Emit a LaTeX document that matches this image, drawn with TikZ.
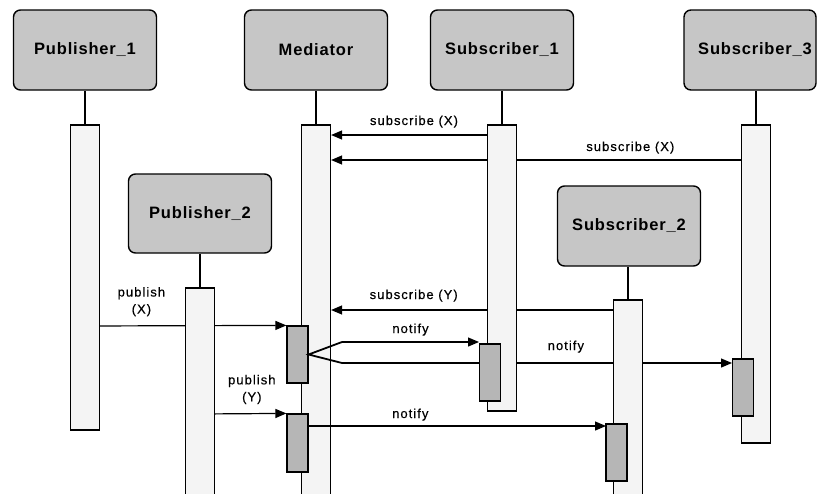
\documentclass[tikz,border=0pt]{standalone}
\usepackage{fontspec}
\setmainfont{Liberation Sans}
\newfontfamily\boxfont[LetterSpace=5]{Liberation Sans}
\newfontfamily\lblfont[LetterSpace=8,FakeBold=0.4]{Liberation Sans}
\usetikzlibrary{arrows.meta}

\definecolor{boxgray}{HTML}{C6C6C6}
\definecolor{barfill}{HTML}{F4F4F4}
\definecolor{actgray}{HTML}{B6B6B6}

\tikzset{
  actor/.style={draw, line width=1.4pt, rounded corners=7pt, fill=boxgray,
    minimum width=143pt, minimum height=80pt, inner sep=0pt,
    font=\boxfont\bfseries\fontsize{16.5}{20}\selectfont},
  lifebar/.style={draw, line width=1.2pt, fill=barfill, minimum width=29pt, inner sep=0pt},
  activation/.style={draw, line width=1.2pt, fill=actgray, minimum width=21pt, inner sep=0pt},
  lifeline/.style={line width=1.3pt},
  msg/.style={line width=1.2pt, -{Triangle[length=11pt,width=9pt]}},
  fork/.style={line width=1.8pt},
  lbl/.style={font=\lblfont\fontsize{13}{17}\selectfont, inner sep=0pt, align=center}
}

\begin{document}
\begin{tikzpicture}[x=1pt, y=-1pt]
\clip (0,0) rectangle (818,493);

% participants
\node[actor] (pub1) at (85,50) {Publisher\_1};
\node[actor] (med) at (316,50) {Mediator};
\node[actor] (sub1) at (502,50) {Subscriber\_1};
\node[actor, minimum width=132pt] (sub3) at (750,50) {\hspace*{10pt}Subscriber\_3};
\node[actor, minimum height=79pt] (pub2) at (200,213.5) {Publisher\_2};
\node[actor] (sub2) at (629,226) {Subscriber\_2};

% the mediator's bar lies beneath the messages
\node[lifebar, minimum height=372pt] (medbar) at (316,311) {};
\draw[lifeline] (medbar.north) -- (medbar.north |- med.south);

% activations on the mediator
\node[activation, minimum height=57pt] (m1) at (297.5,354.5) {};
\node[activation, minimum height=58pt] (m2) at (297.5,443) {};

% subscriptions
\draw[msg] (502,135) -- (medbar.east |- 0,135)
  node[lbl, pos=0.515, anchor=base, yshift=10pt] {subscribe (X)};
\draw[msg] (741,160) -- (medbar.east |- 0,160)
  node[lbl, pos=0.27, anchor=base, yshift=9pt] {subscribe (X)};
\draw[msg] (613,310) -- (medbar.east |- 0,310)
  node[lbl, pos=0.707, anchor=base, yshift=11pt] {subscribe (Y)};

% publications
\draw[msg] (85,326) -- (m1.north west)
  node[lbl, pos=0.28, anchor=south, yshift=9pt] {publish\\(X)};
\draw[msg] (200,414) -- (m2.north west)
  node[lbl, pos=0.60, anchor=south, yshift=9pt] {publish\\(Y)};

% notifications
\coordinate (f1) at (342,342);
\coordinate (f2) at (342,363);
\coordinate (s1tip) at (479,342);
\coordinate (s3tip) at (732,363);
\draw[fork] (f1) -- (m1.east) -- (f2);
\draw[msg] (f1) -- (s1tip)
  node[lbl, pos=0.5, anchor=base, yshift=9pt] {notify};
\draw[msg] (f2) -- (s3tip)
  node[lbl, pos=0.574, anchor=base, yshift=13pt] {notify};
\coordinate (n3) at (606,426);
\draw[msg] (m2.east |- n3) -- (n3)
  node[lbl, pos=0.342, anchor=base, yshift=8pt] {notify};

% the other bars, drawn over the messages that pass behind them
\node[lifebar, minimum height=305pt] (pub1bar) at (85,277.5) {};
\node[lifebar, minimum height=207pt] (pub2bar) at (200,391.5) {};
\node[lifebar, minimum height=286pt] (sub1bar) at (502,268) {};
\node[lifebar, minimum height=318pt] (sub3bar) at (756,284) {};
\node[lifebar, minimum height=195pt] (sub2bar) at (628,397.5) {};

\draw[lifeline] (pub1bar.north) -- (pub1bar.north |- pub1.south);
\draw[lifeline] (pub2bar.north) -- (pub2bar.north |- pub2.south);
\draw[lifeline] (sub1bar.north) -- (sub1bar.north |- sub1.south);
\draw[lifeline] (sub3bar.north) -- (sub3bar.north |- sub3.south);
\draw[lifeline] (sub2bar.north) -- (sub2bar.north |- sub2.south);

% activations on the subscribers
\node[activation, minimum height=57pt] (s1a) at (490,372.5) {};
\node[activation, minimum height=57pt] (s3a) at (743,387.5) {};
\node[activation, minimum height=57pt] (s2a) at (616.5,452.5) {};

\end{tikzpicture}
\end{document}
